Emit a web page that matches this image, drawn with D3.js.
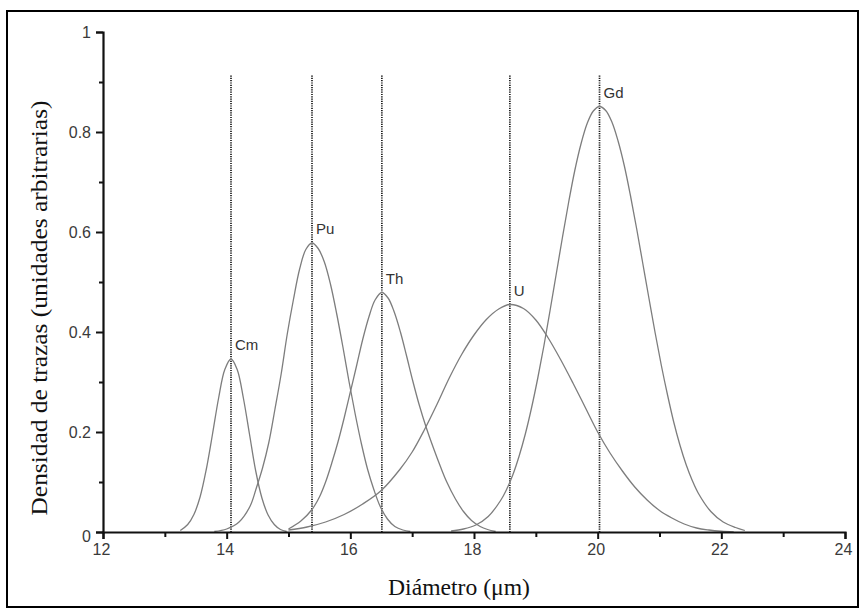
<!DOCTYPE html>
<html>
<head>
<meta charset="utf-8">
<script src="https://cdn.jsdelivr.net/npm/d3@7"></script>
<style>
  html, body { margin: 0; padding: 0; background: #fff; }
  svg { display: block; }
  .tick-label { font-family: "Liberation Sans", Arial, Helvetica, sans-serif; font-size: 16px; fill: #3a3a3a; }
  .axis-title { font-family: "Liberation Serif", "Times New Roman", serif; font-size: 23px; fill: #111; }
  .peak-label { font-family: "Liberation Sans", Arial, Helvetica, sans-serif; font-size: 15px; fill: #333; }
</style>
</head>
<body>
<svg id="chart" width="865" height="614"></svg>
<script>
// Elements and the diameter of each distribution maximum (µm)
const elements = ["Cm", "Pu", "Th", "U", "Gd"];
const peakDiameters = [14.07, 15.38, 16.51, 18.58, 20.03];
const peakDensities = [0.346, 0.578, 0.479, 0.455, 0.851];

// Track density curves: [diameter µm, density]
const curveCm = [
  [13.25, 0.003], [13.37, 0.015], [13.47, 0.035], [13.57, 0.070], [13.67, 0.125],
  [13.77, 0.195], [13.87, 0.268], [13.97, 0.325], [14.07, 0.346], [14.17, 0.325],
  [14.27, 0.268], [14.37, 0.195], [14.47, 0.122], [14.57, 0.068], [14.67, 0.034],
  [14.77, 0.015], [14.87, 0.005], [14.97, 0.001]
];
const curvePu = [
  [13.80, 0.001], [14.00, 0.006], [14.20, 0.020], [14.38, 0.052], [14.48, 0.088],
  [14.58, 0.128], [14.68, 0.178], [14.78, 0.245], [14.88, 0.315], [14.98, 0.396],
  [15.08, 0.465], [15.18, 0.526], [15.28, 0.565], [15.38, 0.578], [15.48, 0.567],
  [15.58, 0.540], [15.68, 0.495], [15.78, 0.436], [15.88, 0.370], [15.98, 0.300],
  [16.08, 0.235], [16.18, 0.176], [16.28, 0.125], [16.38, 0.085], [16.48, 0.052],
  [16.60, 0.026], [16.72, 0.011], [16.85, 0.004], [16.97, 0.001]
];
const curveTh = [
  [15.00, 0.006], [15.20, 0.022], [15.38, 0.045], [15.50, 0.070], [15.60, 0.100],
  [15.70, 0.138], [15.80, 0.180], [15.90, 0.228], [16.00, 0.280], [16.10, 0.332],
  [16.20, 0.385], [16.30, 0.430], [16.40, 0.464], [16.51, 0.479], [16.61, 0.468],
  [16.71, 0.440], [16.81, 0.400], [16.91, 0.352], [17.01, 0.302], [17.11, 0.256],
  [17.23, 0.208], [17.35, 0.166], [17.46, 0.130], [17.56, 0.100], [17.70, 0.066],
  [17.83, 0.041], [17.96, 0.023], [18.10, 0.011], [18.22, 0.005], [18.35, 0.001]
];
const curveU = [
  [15.00, 0.004], [15.30, 0.010], [15.60, 0.020], [15.90, 0.035], [16.20, 0.056],
  [16.50, 0.083], [16.80, 0.125], [17.00, 0.160], [17.20, 0.205], [17.40, 0.255],
  [17.60, 0.308], [17.80, 0.355], [18.00, 0.394], [18.20, 0.425], [18.40, 0.446],
  [18.58, 0.455], [18.80, 0.447], [19.00, 0.424], [19.20, 0.388], [19.40, 0.345],
  [19.60, 0.298], [19.80, 0.249], [20.00, 0.200], [20.20, 0.158], [20.40, 0.122],
  [20.60, 0.090], [20.80, 0.064], [21.00, 0.043], [21.20, 0.028], [21.40, 0.016],
  [21.60, 0.008], [21.80, 0.004], [22.00, 0.0015], [22.20, 0.000]
];
const curveGd = [
  [17.63, 0.002], [17.83, 0.006], [18.03, 0.014], [18.23, 0.031], [18.43, 0.063],
  [18.53, 0.086], [18.63, 0.115], [18.73, 0.152], [18.83, 0.196], [18.93, 0.248],
  [19.03, 0.307], [19.13, 0.372], [19.23, 0.443], [19.33, 0.516], [19.43, 0.589],
  [19.53, 0.659], [19.63, 0.723], [19.73, 0.776], [19.83, 0.817], [19.93, 0.842],
  [20.03, 0.851], [20.13, 0.843], [20.23, 0.820], [20.33, 0.782], [20.43, 0.733],
  [20.53, 0.673], [20.63, 0.607], [20.73, 0.537], [20.83, 0.467], [20.93, 0.398],
  [21.03, 0.333], [21.13, 0.274], [21.23, 0.220], [21.33, 0.174], [21.43, 0.135],
  [21.53, 0.103], [21.63, 0.077], [21.83, 0.041], [22.03, 0.020], [22.23, 0.009],
  [22.38, 0.003]
];
const curves = [curveCm, curvePu, curveTh, curveU, curveGd];

// Axis ticks
const xMajorTicks = [12, 14, 16, 18, 20, 22, 24];
const xMinorTicks = [13, 15, 17, 19, 21, 23];
const yMajorTicks = [0, 0.2, 0.4, 0.6, 0.8, 1];
const yMinorTicks = [0.1, 0.3, 0.5, 0.7, 0.9];
const yTickLabels = ["0", "0.2", "0.4", "0.6", "0.8", "1"];
const markerTop = 0.913; // upper end of the dotted peak markers

const xTitle = "Diámetro (μm)";
const yTitle = "Densidad de trazas (unidades arbitrarias)";

const svg = d3.select("#chart");
const W = 865, H = 614;
const margin = { left: 103, right: 20, top: 32, bottom: 82 };

// Frame around the figure
svg.append("rect")
  .attr("x", 7).attr("y", 11)
  .attr("width", 851).attr("height", 596)
  .attr("fill", "none").attr("stroke", "#000").attr("stroke-width", 2);

const x = d3.scaleLinear().domain([12, 24]).range([margin.left, W - margin.right]);
const y = d3.scaleLinear().domain([0, 1]).range([H - margin.bottom, margin.top]);

// Dotted markers at each peak
svg.append("g").selectAll("line")
  .data(peakDiameters)
  .join("line")
  .attr("x1", d => x(d)).attr("x2", d => x(d))
  .attr("y1", y(markerTop)).attr("y2", y(0))
  .attr("stroke", "#1a1a1a").attr("stroke-width", 1.7)
  .attr("stroke-dasharray", "1.2,1.1");

// Density curves
const line = d3.line()
  .x(d => x(d[0]))
  .y(d => y(Math.max(0, d[1])))
  .curve(d3.curveCatmullRom.alpha(0.5));

svg.append("g").selectAll("path")
  .data(curves)
  .join("path")
  .attr("d", line)
  .attr("fill", "none")
  .attr("stroke", "#7d7d7d")
  .attr("stroke-width", 1.3);

// Peak labels
svg.append("g").selectAll("text")
  .data(elements)
  .join("text")
  .attr("class", "peak-label")
  .attr("x", (d, i) => x(peakDiameters[i]) + 4)
  .attr("y", (d, i) => y(peakDensities[i]) - 9)
  .text(d => d);

// X axis
const xAxisG = svg.append("g").attr("transform", `translate(0,${y(0)})`);
xAxisG.call(d3.axisBottom(x).tickValues(xMajorTicks).tickSize(7).tickPadding(5).tickFormat(d3.format("d")));
xAxisG.append("g").call(d3.axisBottom(x).tickValues(xMinorTicks).tickSize(5).tickFormat(""));
xAxisG.selectAll(".domain").attr("stroke", "#111").attr("stroke-width", 2.2);
xAxisG.selectAll(".tick line").attr("stroke", "#111").attr("stroke-width", 2);
xAxisG.selectAll(".tick text").attr("class", "tick-label").attr("fill", null).attr("dx", -2);
xAxisG.selectAll("g > g .domain").remove();

// Y axis
const yAxisG = svg.append("g").attr("transform", `translate(${x(12)},0)`);
yAxisG.call(d3.axisLeft(y).tickValues(yMajorTicks).tickSize(7).tickPadding(5)
  .tickFormat((d, i) => yTickLabels[i]));
yAxisG.append("g").call(d3.axisLeft(y).tickValues(yMinorTicks).tickSize(4).tickFormat(""));
yAxisG.selectAll(".domain").attr("stroke", "#111").attr("stroke-width", 2.2);
yAxisG.selectAll(".tick line").attr("stroke", "#111").attr("stroke-width", 2);
yAxisG.selectAll(".tick text").attr("class", "tick-label").attr("fill", null);
yAxisG.selectAll("g > g .domain").remove();
// the zero label sits a little below the baseline, clear of the x axis
yAxisG.selectAll(".tick text").filter(d => d === 0).attr("dy", "0.6em");

// Axis titles
svg.append("text")
  .attr("class", "axis-title")
  .attr("x", 459).attr("y", 595)
  .attr("text-anchor", "middle")
  .attr("textLength", 142)
  .attr("lengthAdjust", "spacingAndGlyphs")
  .text(xTitle);

svg.append("text")
  .attr("class", "axis-title")
  .attr("transform", "translate(47,308) rotate(-90)")
  .attr("text-anchor", "middle")
  .attr("textLength", 415)
  .attr("lengthAdjust", "spacingAndGlyphs")
  .text(yTitle);
</script>
</body>
</html>
